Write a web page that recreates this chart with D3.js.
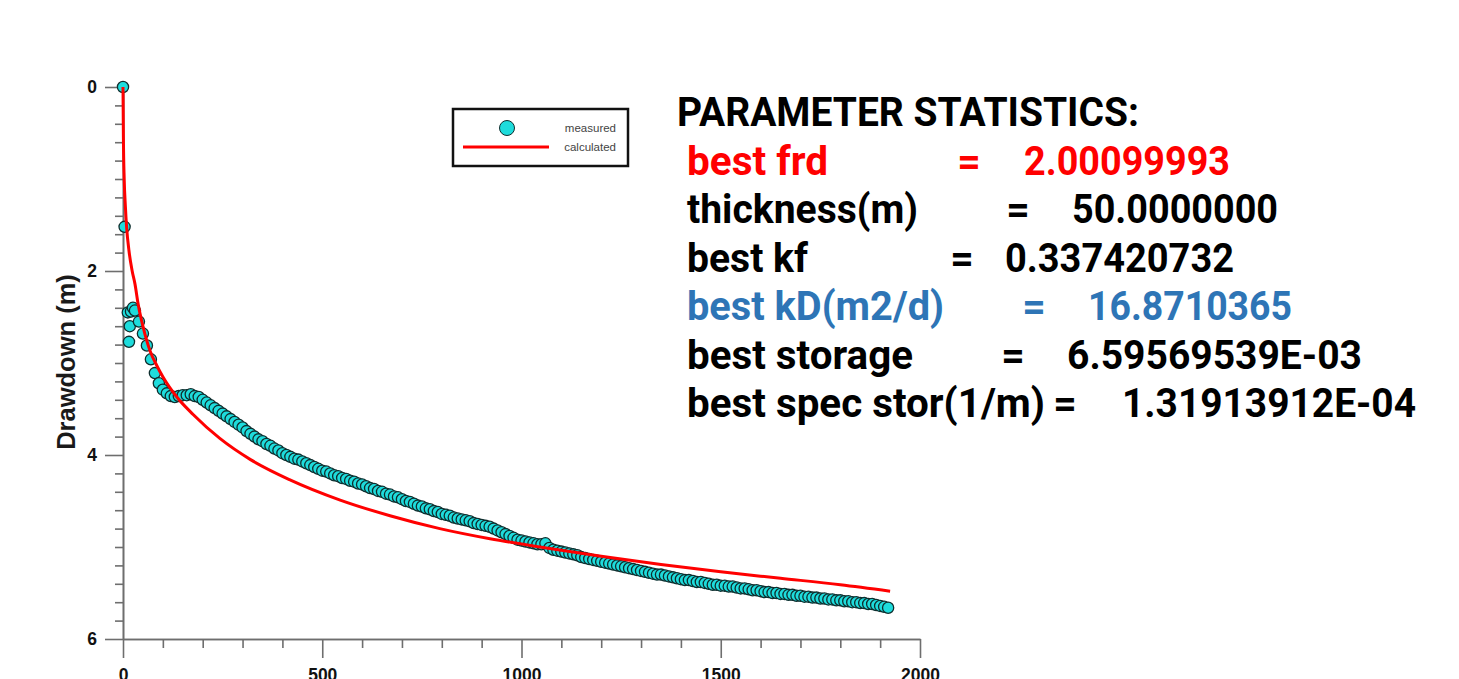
<!DOCTYPE html>
<html><head><meta charset="utf-8">
<script src="https://cdn.jsdelivr.net/npm/d3@7"></script>
<style>
html,body{margin:0;padding:0;background:#fff;}
svg{display:block;}
</style></head>
<body>
<svg id="chart" width="1459" height="679"></svg>
<script>
// ---------- data ----------
const measuredTime = [0,4,12,15,17,20,25,30,40,50,60,70,80,90,100,110,120,130,140,150,160,170,180,190,200,
210,220,230,240,250,260,270,280,290,300,310,320,330,340,350,360,370,380,390,400,410,420,430,440,450,460,470,480,490,500,
510,520,530,540,550,560,570,580,590,600,610,620,630,640,650,660,670,680,690,700,710,720,730,740,750,760,770,780,790,800,
810,820,830,840,850,860,870,880,890,900,910,920,930,940,950,960,970,980,990,1000,1010,1020,1030,1040,1050,1060,1070,1080,1090,1100,
1110,1120,1130,1140,1150,1160,1170,1180,1190,1200,1210,1220,1230,1240,1250,1260,1270,1280,1290,1300,1310,1320,1330,1340,1350,1360,1370,1380,1390,1400,
1410,1420,1430,1440,1450,1460,1470,1480,1490,1500,1510,1520,1530,1540,1550,1560,1570,1580,1590,1600,1610,1620,1630,1640,1650,1660,1670,1680,1690,1700,
1710,1720,1730,1740,1750,1760,1770,1780,1790,1800,1810,1820,1830,1840,1850,1860,1870,1880,1890,1900,1910,1920];
const measuredDrawdown = [0,1.52,2.45,2.77,2.60,2.44,2.40,2.43,2.55,2.68,2.81,2.96,3.11,3.22,3.29,3.33,3.36,3.37,3.36,3.35,3.35,3.34,3.36,3.37,3.40,
3.43,3.46,3.49,3.52,3.55,3.58,3.61,3.64,3.67,3.70,3.74,3.77,3.80,3.83,3.85,3.88,3.90,3.93,3.95,3.98,4.00,4.02,4.04,4.05,4.07,4.09,4.11,4.13,4.15,4.17,
4.18,4.20,4.22,4.23,4.25,4.26,4.28,4.29,4.31,4.32,4.34,4.36,4.37,4.39,4.40,4.42,4.43,4.45,4.46,4.48,4.50,4.51,4.53,4.55,4.56,4.58,4.59,4.61,4.62,4.64,
4.65,4.66,4.68,4.69,4.70,4.71,4.72,4.74,4.75,4.76,4.77,4.78,4.80,4.82,4.84,4.86,4.88,4.90,4.92,4.93,4.94,4.95,4.96,4.97,4.97,4.96,5.01,5.03,5.04,5.05,
5.06,5.07,5.08,5.09,5.11,5.12,5.13,5.14,5.15,5.16,5.17,5.18,5.19,5.20,5.21,5.22,5.23,5.24,5.25,5.26,5.27,5.28,5.29,5.30,5.30,5.31,5.32,5.33,5.34,5.35,
5.36,5.36,5.37,5.38,5.38,5.39,5.40,5.41,5.41,5.42,5.42,5.43,5.43,5.44,5.45,5.45,5.46,5.47,5.47,5.48,5.49,5.49,5.50,5.50,5.51,5.51,5.52,5.52,5.53,5.53,
5.54,5.54,5.55,5.55,5.56,5.56,5.57,5.57,5.58,5.58,5.59,5.59,5.60,5.60,5.61,5.61,5.62,5.62,5.63,5.64,5.65,5.66];

const calcTime = [0,1,3,6,9,15,23,30,38,50,68,85,100,135,176,243,320,419,545,670,795,921,1046,1200,1350,1500,1650,1800,1925];
const calcDrawdown = [0,0.55,1.0,1.3,1.52,1.78,2.0,2.14,2.36,2.6,2.87,3.03,3.15,3.37,3.56,3.82,4.05,4.27,4.49,4.66,4.80,4.91,5.0,5.10,5.19,5.27,5.34,5.41,5.48];

const yMajorTicks = [0,2,4,6];
const xMajorTicks = [0,500,1000,1500,2000];
const yAxisTitle = "Drawdown (m)";
const legendLabels = ["measured","calculated"];

const statsTitle = "PARAMETER STATISTICS:";
const statNames  = ["best frd","thickness(m)","best kf","best kD(m2/d)","best storage","best spec stor(1/m)"];
const statValues = ["2.00099993","50.0000000","0.337420732","16.8710365","6.59569539E-03","1.31913912E-04"];

// ---------- layout ----------
const svg = d3.select("#chart");
const x = d3.scaleLinear().domain([0,2000]).range([123,920]);
const y = d3.scaleLinear().domain([0,6]).range([87,639]);
const axisColor = "#6e6e6e";
const labelFont = "'Liberation Sans', Arial, sans-serif";

// y axis: minor + major ticks
const yMinor = d3.range(0,6.0001,0.2).map(v=>+v.toFixed(1)).filter(v=>!yMajorTicks.includes(v));
const gyMinor = svg.append("g").attr("transform","translate(123,0)")
  .call(d3.axisLeft(y).tickValues(yMinor).tickSize(8).tickSizeOuter(0).tickFormat(""));
const gy = svg.append("g").attr("transform","translate(123,0)")
  .call(d3.axisLeft(y).tickValues(yMajorTicks).tickSize(18).tickSizeOuter(0).tickPadding(8).tickFormat(d3.format("d")));
// x axis
const xMinor = d3.range(0,2001,100).filter(v=>!xMajorTicks.includes(v));
const gxMinor = svg.append("g").attr("transform","translate(0,639)")
  .call(d3.axisBottom(x).tickValues(xMinor).tickSize(9).tickSizeOuter(0).tickFormat(""));
const gx = svg.append("g").attr("transform","translate(0,639)")
  .call(d3.axisBottom(x).tickValues(xMajorTicks).tickSize(19).tickSizeOuter(0).tickPadding(11).tickFormat(d3.format("d")));

[gyMinor,gy,gxMinor,gx].forEach(g=>{
  g.selectAll("path.domain").attr("stroke",axisColor).attr("stroke-width",1.6);
  g.selectAll(".tick line").attr("stroke",axisColor).attr("stroke-width",1.6);
  g.selectAll(".tick text").attr("fill","#111").attr("font-family",labelFont)
    .attr("font-size",17.5).attr("font-weight","bold");
});

// y axis title
svg.append("text")
  .attr("transform","translate(75,362) rotate(-90)")
  .attr("text-anchor","middle")
  .attr("font-family",labelFont).attr("font-size",25.5).attr("font-weight","bold").attr("fill","#1a1a1a")
  .text(yAxisTitle);

// measured points
const ptFill = "#1edcdc", ptStroke = "#0f2e2e";
svg.append("g").selectAll("circle")
  .data(measuredTime.map((t,i)=>({t, s:measuredDrawdown[i]})))
  .join("circle")
  .attr("cx",d=>x(d.t)).attr("cy",d=>y(d.s)).attr("r",5.6)
  .attr("fill",ptFill).attr("stroke",ptStroke).attr("stroke-width",1.3);

// calculated line
const line = d3.line().x(d=>x(d.t)).y(d=>y(d.s)).curve(d3.curveMonotoneX);
svg.append("path")
  .datum(calcTime.map((t,i)=>({t, s:calcDrawdown[i]})))
  .attr("d",line).attr("fill","none").attr("stroke","#ff0000").attr("stroke-width",3);

// legend
const lg = svg.append("g");
lg.append("rect").attr("x",453).attr("y",109).attr("width",175).attr("height",57)
  .attr("fill","#fff").attr("stroke","#111").attr("stroke-width",2.5);
lg.append("circle").attr("cx",507).attr("cy",128).attr("r",7.5)
  .attr("fill",ptFill).attr("stroke",ptStroke).attr("stroke-width",1);
lg.append("line").attr("x1",463).attr("x2",549).attr("y1",147).attr("y2",147)
  .attr("stroke","#ff0000").attr("stroke-width",3);
lg.selectAll("text.lab").data(legendLabels).join("text")
  .attr("x",616).attr("y",(d,i)=>132+i*19).attr("text-anchor","end")
  .attr("font-family",labelFont).attr("font-size",11.5).attr("fill","#444").text(d=>d);

// statistics text
const statFont = "Roboto, 'Noto Sans', sans-serif";
const fs = 41;
svg.append("text").attr("x",677).attr("y",126)
  .attr("font-family",statFont).attr("font-weight",700).attr("font-size",fs).attr("fill","#000")
  .attr("textLength",462).attr("lengthAdjust","spacingAndGlyphs")
  .text(statsTitle);
const statColors = ["#ff0000","#000","#000","#2e75b6","#000","#000"];
const nameW = [141,231,121,257,226,358];
const eqX = [969,1018,962,1034,1013,1065];
const valX = [1024,1072,1005,1088,1067,1122];
const valW = [206,206,229,204,295,294];
const rows = svg.append("g").selectAll("g").data(statNames).join("g")
  .attr("transform",(d,i)=>`translate(0,${175+i*48.4})`)
  .attr("font-family",statFont).attr("font-weight",700).attr("font-size",fs)
  .attr("fill",(d,i)=>statColors[i]);
rows.append("text").attr("x",687).attr("textLength",(d,i)=>nameW[i]).attr("lengthAdjust","spacingAndGlyphs").text(d=>d);
rows.append("text").attr("x",(d,i)=>eqX[i]).attr("text-anchor","middle").text("=");
rows.append("text").attr("x",(d,i)=>valX[i]).attr("textLength",(d,i)=>valW[i]).attr("lengthAdjust","spacingAndGlyphs").text((d,i)=>statValues[i]);
</script>
</body></html>
